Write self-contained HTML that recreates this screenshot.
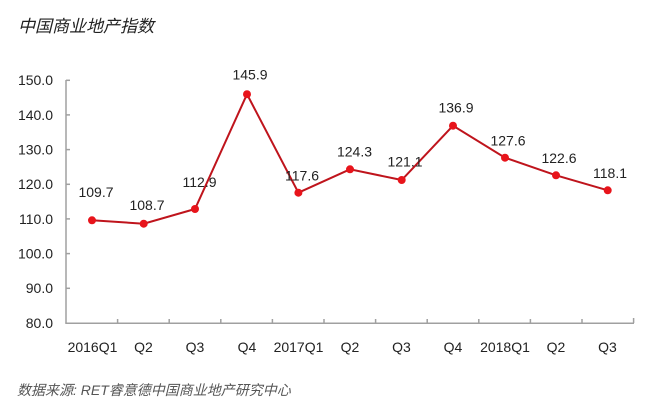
<!DOCTYPE html>
<html><head><meta charset="utf-8"><style>
html,body{margin:0;padding:0;background:#fff;}
svg{display:block;}
</style></head><body>
<svg width="650" height="414" viewBox="0 0 650 414" xmlns="http://www.w3.org/2000/svg">
<rect width="650" height="414" fill="#fff"/>
<text x="18" y="32" font-family="'Liberation Sans','Noto Sans CJK SC',sans-serif" font-size="17" font-style="italic" fill="#222">中国商业地产指数</text>
<g stroke="#a0a0a0" stroke-width="1.5" fill="none">
<line x1="66" y1="80" x2="66" y2="323.3"/>
<line x1="65.3" y1="323.3" x2="634" y2="323.3"/>
<line x1="66" y1="80.3" x2="70" y2="80.3"/>
<line x1="66" y1="114.9" x2="70" y2="114.9"/>
<line x1="66" y1="149.6" x2="70" y2="149.6"/>
<line x1="66" y1="184.3" x2="70" y2="184.3"/>
<line x1="66" y1="218.9" x2="70" y2="218.9"/>
<line x1="66" y1="253.6" x2="70" y2="253.6"/>
<line x1="66" y1="288.3" x2="70" y2="288.3"/>
<line x1="117.6" y1="323" x2="117.6" y2="319"/>
<line x1="169.2" y1="323" x2="169.2" y2="319"/>
<line x1="220.8" y1="323" x2="220.8" y2="319"/>
<line x1="272.4" y1="323" x2="272.4" y2="319"/>
<line x1="324" y1="323" x2="324" y2="319"/>
<line x1="375.6" y1="323" x2="375.6" y2="319"/>
<line x1="427.2" y1="323" x2="427.2" y2="319"/>
<line x1="478.8" y1="323" x2="478.8" y2="319"/>
<line x1="530.4" y1="323" x2="530.4" y2="319"/>
<line x1="582" y1="323" x2="582" y2="319"/>
<line x1="633.6" y1="323" x2="633.6" y2="318"/>
</g>
<g font-family="'Liberation Sans',sans-serif" font-size="14" fill="#222" text-anchor="end">
<text x="53" y="85">150.0</text>
<text x="53" y="120">140.0</text>
<text x="53" y="154.5">130.0</text>
<text x="53" y="189">120.0</text>
<text x="53" y="224">110.0</text>
<text x="53" y="258.5">100.0</text>
<text x="53" y="293">90.0</text>
<text x="53" y="328">80.0</text>
</g>
<g font-family="'Liberation Sans',sans-serif" font-size="14" fill="#222" text-anchor="middle">
<text x="92.5" y="352">2016Q1</text>
<text x="143.5" y="352">Q2</text>
<text x="195" y="352">Q3</text>
<text x="247" y="352">Q4</text>
<text x="298.5" y="352">2017Q1</text>
<text x="350" y="352">Q2</text>
<text x="401.5" y="352">Q3</text>
<text x="453" y="352">Q4</text>
<text x="505" y="352">2018Q1</text>
<text x="556" y="352">Q2</text>
<text x="607.5" y="352">Q3</text>
</g>
<polyline fill="none" stroke="#bf141c" stroke-width="2" stroke-linejoin="miter" points="92,220.3 143.7,223.7 195,209 247,94.2 298.4,192.7 350,169.3 401.7,180 453,125.7 505,157.7 556,175.3 607.7,190.3"/>
<g fill="#e8141b">
<circle cx="92" cy="220.3" r="4"/>
<circle cx="143.7" cy="223.7" r="4"/>
<circle cx="195" cy="209" r="4"/>
<circle cx="247" cy="94.2" r="4"/>
<circle cx="298.4" cy="192.7" r="4"/>
<circle cx="350" cy="169.3" r="4"/>
<circle cx="401.7" cy="180" r="4"/>
<circle cx="453" cy="125.7" r="4"/>
<circle cx="505" cy="157.7" r="4"/>
<circle cx="556" cy="175.3" r="4"/>
<circle cx="607.7" cy="190.3" r="4"/>
</g>
<g font-family="'Liberation Sans',sans-serif" font-size="14" fill="#222" text-anchor="middle">
<text x="96" y="197">109.7</text>
<text x="147" y="210">108.7</text>
<text x="199.5" y="187">112.9</text>
<text x="250" y="79.5">145.9</text>
<text x="302" y="180.5">117.6</text>
<text x="354.5" y="156.5">124.3</text>
<text x="405" y="166.5">121.1</text>
<text x="456" y="112.5">136.9</text>
<text x="508" y="145.5">127.6</text>
<text x="559" y="163">122.6</text>
<text x="610" y="178">118.1</text>
</g>
<text x="17" y="395" font-family="'Liberation Sans','Noto Sans CJK SC',sans-serif" font-size="14" font-style="italic" fill="#555">数据来源: RET睿意德中国商业地产研究中心</text>
</svg>
</body></html>
